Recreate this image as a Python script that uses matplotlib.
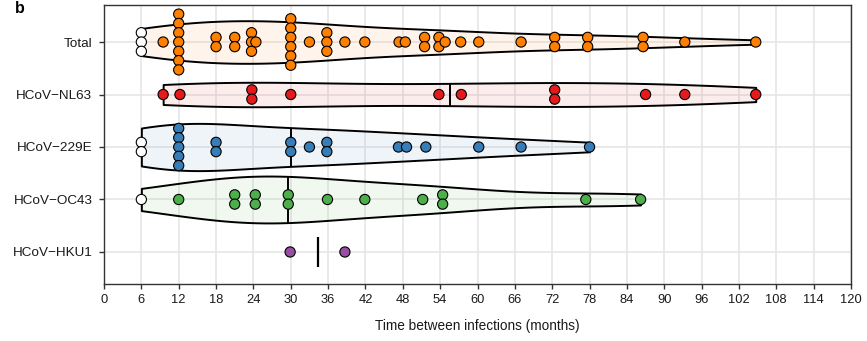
import numpy as np
import matplotlib
matplotlib.use("Agg")
import matplotlib.pyplot as plt
from matplotlib.colors import to_rgba

plt.rcParams['font.family'] = ['Liberation Sans', 'DejaVu Sans']

# ---------------- data (months between infections) ----------------
categories = ["Total", "HCoV\u2212NL63", "HCoV\u2212229E", "HCoV\u2212OC43", "HCoV\u2212HKU1"]
colors = ["#FF7F00", "#E41A1C", "#377EB8", "#4DAF4A", "#984EA3"]

total = [6, 6, 6, 9.5, 12, 12, 12, 12, 12, 12, 12, 18, 18, 21, 21,
         23.7, 23.7, 23.7, 24.4, 30, 30, 30, 30, 30, 30, 33, 35.8, 35.8, 35.8,
         38.7, 41.9, 47.4, 48.4, 51.5, 51.5, 53.8, 53.8, 54.8, 57.3, 60.2,
         67, 72.4, 72.4, 77.7, 77.7, 86.6, 86.6, 93.3, 104.7]
nl63 = [9.5, 12.2, 23.75, 23.75, 30, 53.8, 57.4, 72.4, 72.4, 87, 93.3, 104.7]
e229 = [6, 6, 12, 12, 12, 12, 12, 18, 18, 30, 30, 33, 35.8, 35.8,
        47.3, 48.6, 51.7, 60.2, 67, 78]
oc43 = [6, 12, 21, 21, 24.3, 24.3, 29.6, 29.6, 35.9, 41.9, 51.2, 54.4, 54.4,
        77.4, 86.2]
hku1 = [29.9, 38.7]
series = [total, nl63, e229, oc43, hku1]

lower_limit = 6          # intervals at the lower limit are drawn as open (white) points
xticks = list(range(0, 121, 6))

# ---------------- figure ----------------
W, H, DPI = 867, 341, 100
fig = plt.figure(figsize=(W / DPI, H / DPI), dpi=DPI)
ax = fig.add_axes([104 / W, 1 - 284 / H, (851 - 104) / W, (284 - 5) / H])

ax.set_xlim(0, 120)
ax.set_ylim(4.61, -0.705)

# px per data unit (vertical)
ax_h_px = 279
unit_px = ax_h_px / (4.61 + 0.705)
dot_px = 9.3
d = dot_px / unit_px


def nrd0(x):
    x = np.asarray(x, float)
    sd = np.std(x, ddof=1)
    q75, q25 = np.percentile(x, [75, 25])
    lo = min(sd, (q75 - q25) / 1.34)
    if lo <= 0:
        lo = sd if sd > 0 else 1.0
    return 0.9 * lo * len(x) ** (-0.2)


def kde(x, grid):
    x = np.asarray(x, float)
    bw = nrd0(x)
    z = (grid[:, None] - x[None, :]) / bw
    return np.exp(-0.5 * z ** 2).sum(1) / (len(x) * bw * np.sqrt(2 * np.pi))


dens = {}
for i, vals in enumerate(series):
    if len(vals) >= 3:
        g = np.linspace(min(vals), max(vals), 512)
        dens[i] = (g, kde(vals, g))
dmax = max(v[1].max() for v in dens.values())
half = 0.45

for i, vals in enumerate(series):
    col = colors[i]
    med = np.median(vals)
    if i in dens:
        g, dd = dens[i]
        w = dd / dmax * half
        fc = to_rgba(col, 0.08)
        ax.fill_between(g, i - w, i + w, facecolor=fc, edgecolor="black",
                        linewidth=1.4, zorder=2)
        mw = np.interp(med, g, w)
        ax.plot([med, med], [i - mw, i + mw], color="black", lw=1.4, zorder=3,
                solid_capstyle="butt")
    else:
        ax.plot([med, med], [i - 0.29, i + 0.29], color="black", lw=1.6, zorder=3,
                solid_capstyle="butt")
    # centered stacking of identical values
    uv, cnt = np.unique(np.asarray(vals, float), return_counts=True)
    xs, ys, fcs = [], [], []
    for v, c in zip(uv, cnt):
        for k in range(c):
            xs.append(v)
            ys.append(i + (k - (c - 1) / 2) * d)
            fcs.append("white" if v <= lower_limit else col)
    ax.scatter(xs, ys, s=54, c=fcs, edgecolors="black", linewidths=0.8, zorder=4)

# ---------------- axes styling ----------------
ax.set_xticks(xticks)
ax.set_xticklabels([str(t) for t in xticks])
ax.set_yticks(range(len(categories)))
ax.set_yticklabels(categories, fontsize=9.7)
ax.grid(True, color="#E6E6E6", lw=1.2, zorder=0)
ax.set_axisbelow(True)
for s in ax.spines.values():
    s.set_color("#333333")
    s.set_linewidth(1.0)
ax.tick_params(axis="both", colors="#333333", length=3.8, width=1.0,
               labelcolor="#1a1a1a")
ax.tick_params(axis="x", pad=3.5, labelsize=9.3)
ax.tick_params(axis="y", pad=4.5)
ax.set_xlabel("Time between infections (months)", fontsize=9.8, color="#1a1a1a",
              labelpad=9)

fig.text(15 / W, 0.998, "b", fontsize=11.5, fontweight="bold", va="top", ha="left")

fig.savefig("out.png", dpi=DPI)
